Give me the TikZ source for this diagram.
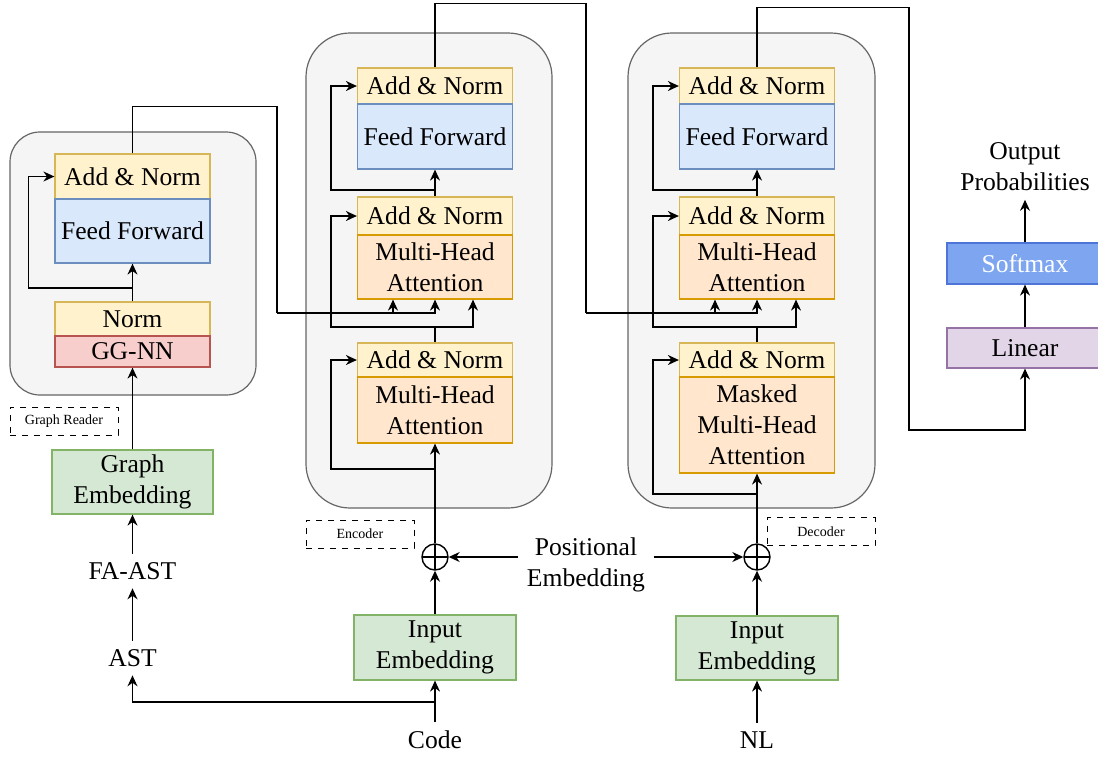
\documentclass[tikz,border=0pt]{standalone}
\usepackage{fontspec}
\setmainfont{Liberation Serif}
\usetikzlibrary{arrows.meta}
\definecolor{normfill}{HTML}{FFF2CC}
\definecolor{normline}{HTML}{D6B656}
\definecolor{fffill}{HTML}{DAE8FC}
\definecolor{ffline}{HTML}{6C8EBF}
\definecolor{attfill}{HTML}{FFE6CC}
\definecolor{attline}{HTML}{D79B00}
\definecolor{ggfill}{HTML}{F8CECC}
\definecolor{ggline}{HTML}{B85450}
\definecolor{embfill}{HTML}{D5E8D4}
\definecolor{embline}{HTML}{82B366}
\definecolor{boxfill}{HTML}{F5F5F5}
\definecolor{boxline}{HTML}{666666}
\definecolor{smfill}{HTML}{7EA6F0}
\definecolor{smline}{HTML}{4D74D6}
\definecolor{linfill}{HTML}{E1D5E7}
\definecolor{linline}{HTML}{9673A6}

\begin{document}
\begin{tikzpicture}[x=0.5pt,y=-0.5pt,>={Stealth[length=5.5pt,width=5pt]},
    line width=0.7pt,font=\fontsize{12.8}{15.5}\selectfont,
    blk/.style={draw,minimum width=77.5pt,inner sep=0pt,align=center,line width=0.6pt},
    addnorm/.style={blk,fill=normfill,draw=normline},
    ffwd/.style={blk,fill=fffill,draw=ffline},
    attn/.style={blk,fill=attfill,draw=attline},
    ggnn/.style={blk,fill=ggfill,draw=ggline},
    embed/.style={blk,fill=embfill,draw=embline,minimum width=81pt,minimum height=32.5pt},
    layerbox/.style={draw=boxline,fill=boxfill,line width=0.6pt},
    tag/.style={draw,dashed,line width=0.5pt,minimum width=54pt,minimum height=14pt,
      inner sep=0pt,font=\fontsize{7}{8}\selectfont},
    lbl/.style={inner sep=4pt,align=center},
    plus/.style={draw,circle,minimum size=13pt,inner sep=0pt,
      path picture={\draw (path picture bounding box.north) -- (path picture bounding box.south)
        (path picture bounding box.west) -- (path picture bounding box.east);}}
  ]
  \useasboundingbox (0,0) rectangle (1098,756);

  % containers
  \draw[layerbox,rounded corners=15pt] (10,132) rectangle (256,395);
  \draw[layerbox,rounded corners=22pt] (306,33) rectangle (552,508);
  \draw[layerbox,rounded corners=22pt] (628,33) rectangle (875,508);

  % graph reader
  \node[addnorm,minimum height=22.5pt] (gran) at (132.5,176.5) {Add \& Norm};
  \node[ffwd,minimum height=32pt] (grff) at (132.5,231) {Feed Forward};
  \node[addnorm,minimum height=17pt] (grnorm) at (132.5,319) {Norm};
  \node[ggnn,minimum height=15.5pt] (grgg) at (132.5,351.5) {GG-NN};
  \node[tag] (grtag) at (64,421) {Graph Reader};
  \node[embed,minimum width=80.5pt,minimum height=32pt] (gemb) at (132.5,482) {Graph\\Embedding};
  \node[lbl] (faast) at (132.5,571) {FA-AST};
  \node[lbl] (ast) at (132.5,658) {AST};

  % encoder
  \node[addnorm,minimum height=18pt] (enan2) at (435,86) {Add \& Norm};
  \node[ffwd,minimum height=32.5pt] (enff) at (435,136.5) {Feed Forward};
  \node[addnorm,minimum height=19pt] (enan1) at (435,216) {Add \& Norm};
  \node[attn,minimum height=32pt] (enmha1) at (435,267) {Multi-Head\\Attention};
  \node[addnorm,minimum height=17pt] (enan0) at (435,360) {Add \& Norm};
  \node[attn,minimum height=33pt] (enmha0) at (435,410) {Multi-Head\\Attention};
  \node[tag] (entag) at (360,534) {Encoder};
  \node[plus] (enplus) at (435,557) {};
  \node[embed] (enemb) at (435,647.5) {Input\\Embedding};
  \node[lbl] (code) at (435,740) {Code};

  % decoder
  \node[addnorm,minimum height=18pt] (dean2) at (757,86) {Add \& Norm};
  \node[ffwd,minimum height=32.5pt] (deff) at (757,136.5) {Feed Forward};
  \node[addnorm,minimum height=19pt] (dean1) at (757,216) {Add \& Norm};
  \node[attn,minimum height=32pt] (demha1) at (757,267) {Multi-Head\\Attention};
  \node[addnorm,minimum height=17pt] (dean0) at (757,360) {Add \& Norm};
  \node[attn,minimum height=48pt] (demha0) at (757,425) {Masked\\Multi-Head\\Attention};
  \node[tag] (detag) at (821,531.5) {Decoder};
  \node[plus] (deplus) at (757,557) {};
  \node[embed,minimum height=32pt] (deemb) at (757,648) {Input\\Embedding};
  \node[lbl] (nl) at (757,740) {NL};

  \node[lbl] (posemb) at (586,565) {Positional\\Embedding};

  % output head
  \node[blk,fill=linfill,draw=linline,minimum width=78pt,minimum height=20pt] (linear) at (1025,348) {Linear};
  \node[blk,fill=smfill,draw=smline,minimum width=78pt,minimum height=20.5pt,text=white] (softmax) at (1025,263.5) {Softmax};
  \node[lbl] (outprob) at (1025,167) {Output\\Probabilities};

  % graph reader wiring
  \draw[->] (faast) -- (gemb);
  \draw[->] (ast) -- (faast);
  \draw[->] (gemb) -- (grgg);
  \draw[->] (grnorm) -- (grff);
  \coordinate (grsplit) at (132.5,288);
  \draw[->] (grsplit) -| ([xshift=-13pt]gran.west) -- (gran.west);
  \coordinate (grout) at (277,313);
  \draw (gran.north) -- ++(0,-47) -| (grout);
  \draw[->] (grout) -| ([xshift=-21pt]enmha1.south);
  \draw[->] (grout) -| (enmha1.south);

  % encoder wiring
  \draw[->] (code) -- (enemb);
  \coordinate (codesplit) at (435,702);
  \draw[->] (codesplit) -| (ast);
  \draw[->] (enemb) -- (enplus);
  \draw[->] (enplus) -- (enmha0);
  \coordinate (ensplit0) at (435,469);
  \draw[->] (ensplit0) -| ([xshift=-13pt]enan0.west) -- (enan0.west);
  \coordinate (ensplit1) at (435,327);
  \draw (enan0.north) -- (ensplit1);
  \draw[->] (ensplit1) -| ([xshift=-13pt]enan1.west) -- (enan1.west);
  \draw[->] (ensplit1) -| ([xshift=19pt]enmha1.south);
  \draw[->] (enan1) -- (enff);
  \coordinate (ensplit2) at (435,190);
  \draw[->] (ensplit2) -| ([xshift=-13pt]enan2.west) -- (enan2.west);
  \coordinate (enout) at (586,313);
  \draw (enan2.north) -- ++(0,-64) -| (enout);
  \draw[->] (enout) -| ([xshift=-21pt]demha1.south);
  \draw[->] (enout) -| (demha1.south);

  % decoder wiring
  \draw[->] (nl) -- (deemb);
  \draw[->] (deemb) -- (deplus);
  \draw[->] (deplus) -- (demha0);
  \coordinate (desplit0) at (757,494);
  \draw[->] (desplit0) -| ([xshift=-13pt]dean0.west) -- (dean0.west);
  \coordinate (desplit1) at (757,327);
  \draw (dean0.north) -- (desplit1);
  \draw[->] (desplit1) -| ([xshift=-13pt]dean1.west) -- (dean1.west);
  \draw[->] (desplit1) -| ([xshift=19.5pt]demha1.south);
  \draw[->] (dean1) -- (deff);
  \coordinate (desplit2) at (757,190);
  \draw[->] (desplit2) -| ([xshift=-13pt]dean2.west) -- (dean2.west);

  \draw[->] (posemb.west |- enplus) -- (enplus);
  \draw[->] (posemb.east |- deplus) -- (deplus);

  % output
  \coordinate (deout) at (909,430);
  \draw[->] (dean2.north) -- ++(0,-60) -| (deout) -| (linear.south);
  \draw[->] (linear) -- (softmax);
  \draw[->] (softmax) -- (outprob);
\end{tikzpicture}
\end{document}
